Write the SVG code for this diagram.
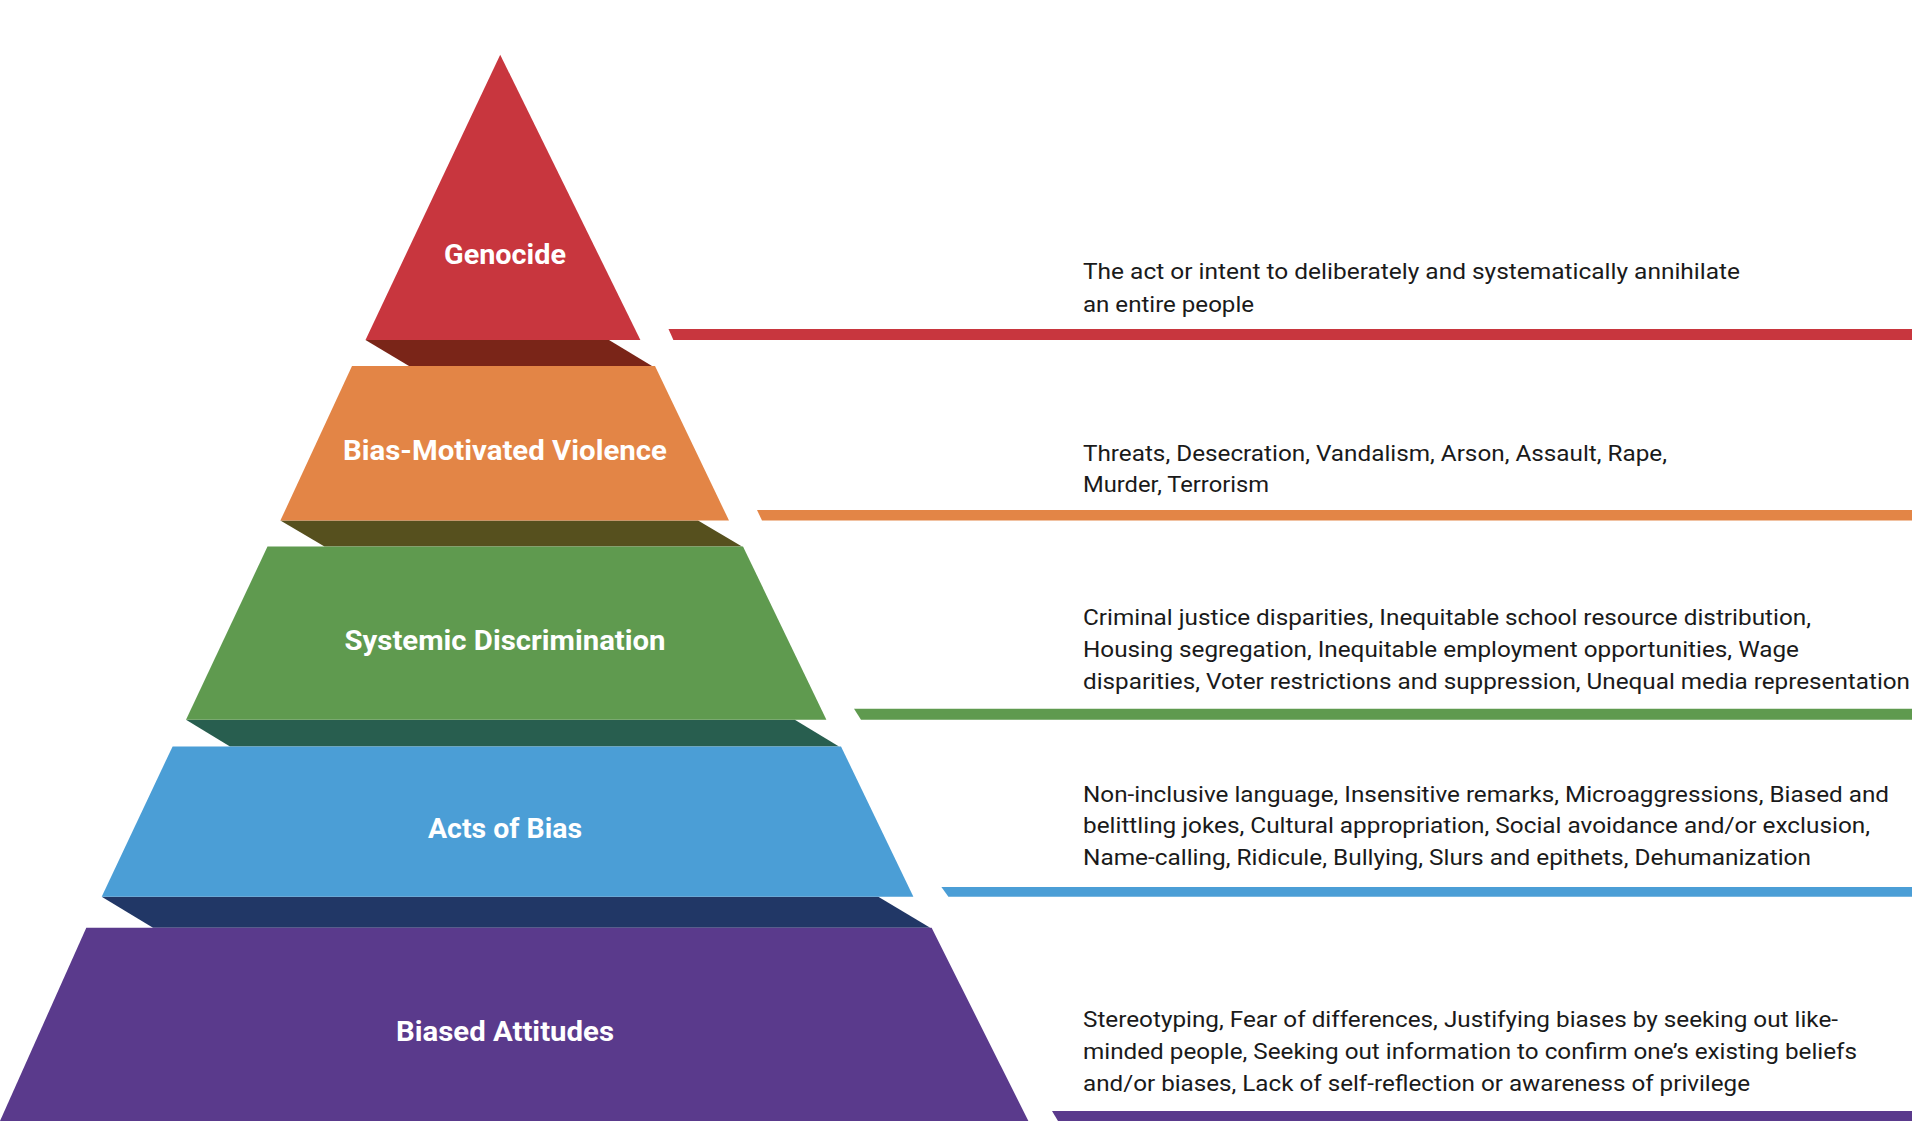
<svg xmlns="http://www.w3.org/2000/svg" width="1920" height="1144" viewBox="0 0 1920 1144">
<style>
.lbl{font-family:Roboto,"Liberation Sans",sans-serif;font-weight:700;font-size:28px;fill:#ffffff;text-anchor:middle}
.desc{font-family:Roboto,"Liberation Sans",sans-serif;font-weight:400;font-size:22.5px;fill:#1a1a1a}
</style>
<rect x="0" y="0" width="1920" height="1144" fill="#ffffff"/>
<g id="shadows">
<polygon points="365.5,340 609,340 652,366 409,366" fill="#7a2518"/>
<polygon points="280.4,520.6 698,520.6 742,546.5 324.5,546.5" fill="#56501e"/>
<polygon points="186,719.7 794.8,719.7 839,746.4 230,746.4" fill="#285e4f"/>
<polygon points="101.7,896.7 878.3,896.7 930.2,927.7 153,927.7" fill="#213766"/>
</g>
<g id="genocide">
<polygon points="500.2,54.7 640.4,340 365.5,340" fill="#c8363e"/>
<text class="lbl" x="505" y="263.5" textLength="122" lengthAdjust="spacingAndGlyphs">Genocide</text>
<text class="desc" x="1083" y="279.3" textLength="657" lengthAdjust="spacingAndGlyphs">The act or intent to deliberately and systematically annihilate</text>
<text class="desc" x="1083" y="311.7" textLength="171" lengthAdjust="spacingAndGlyphs">an entire people</text>
</g>
<g id="violence">
<polygon points="352,366 655,366 729,520.6 280.4,520.6" fill="#e38546"/>
<text class="lbl" x="505" y="460.4" textLength="324" lengthAdjust="spacingAndGlyphs">Bias-Motivated Violence</text>
<text class="desc" x="1083" y="460.7" textLength="584" lengthAdjust="spacingAndGlyphs">Threats, Desecration, Vandalism, Arson, Assault, Rape,</text>
<text class="desc" x="1083" y="492.3" textLength="186" lengthAdjust="spacingAndGlyphs">Murder, Terrorism</text>
</g>
<g id="discrimination">
<polygon points="267.5,546.5 743,546.5 826.4,719.7 186,719.7" fill="#5f9a4f"/>
<text class="lbl" x="505" y="650.4" textLength="321" lengthAdjust="spacingAndGlyphs">Systemic Discrimination</text>
<text class="desc" x="1083" y="625" textLength="728" lengthAdjust="spacingAndGlyphs">Criminal justice disparities, Inequitable school resource distribution,</text>
<text class="desc" x="1083" y="656.7" textLength="716" lengthAdjust="spacingAndGlyphs">Housing segregation, Inequitable employment opportunities, Wage</text>
<text class="desc" x="1083" y="689" textLength="827" lengthAdjust="spacingAndGlyphs">disparities, Voter restrictions and suppression, Unequal media representation</text>
</g>
<g id="acts">
<polygon points="172.6,746.4 841,746.4 913.4,896.7 101.7,896.7" fill="#4b9ed6"/>
<text class="lbl" x="505" y="837.6" textLength="154" lengthAdjust="spacingAndGlyphs">Acts of Bias</text>
<text class="desc" x="1083" y="801.7" textLength="806" lengthAdjust="spacingAndGlyphs">Non-inclusive language, Insensitive remarks, Microaggressions, Biased and</text>
<text class="desc" x="1083" y="833.3" textLength="787" lengthAdjust="spacingAndGlyphs">belittling jokes, Cultural appropriation, Social avoidance and/or exclusion,</text>
<text class="desc" x="1083" y="865.3" textLength="728" lengthAdjust="spacingAndGlyphs">Name-calling, Ridicule, Bullying, Slurs and epithets, Dehumanization</text>
</g>
<g id="attitudes">
<polygon points="86.3,927.7 931.6,927.7 1028.4,1121 0,1121" fill="#5a3a8c"/>
<text class="lbl" x="505" y="1040.8" textLength="218" lengthAdjust="spacingAndGlyphs">Biased Attitudes</text>
<text class="desc" x="1083" y="1027.3" textLength="755" lengthAdjust="spacingAndGlyphs">Stereotyping, Fear of differences, Justifying biases by seeking out like-</text>
<text class="desc" x="1083" y="1059" textLength="774" lengthAdjust="spacingAndGlyphs">minded people, Seeking out information to confirm one’s existing beliefs</text>
<text class="desc" x="1083" y="1090.7" textLength="667" lengthAdjust="spacingAndGlyphs">and/or biases, Lack of self-reflection or awareness of privilege</text>
</g>
<g id="connectors">
<polygon points="668.5,329 1912,329 1912,340 673.4,340" fill="#c8363e"/>
<polygon points="757,510 1912,510 1912,520.6 762,520.6" fill="#e38546"/>
<polygon points="854,708.7 1912,708.7 1912,719.7 861,719.7" fill="#5f9a4f"/>
<polygon points="941.4,887 1912,887 1912,896.7 948.4,896.7" fill="#4b9ed6"/>
<polygon points="1052,1111 1912,1111 1912,1121 1058,1121" fill="#5a3a8c"/>
</g>
</svg>
